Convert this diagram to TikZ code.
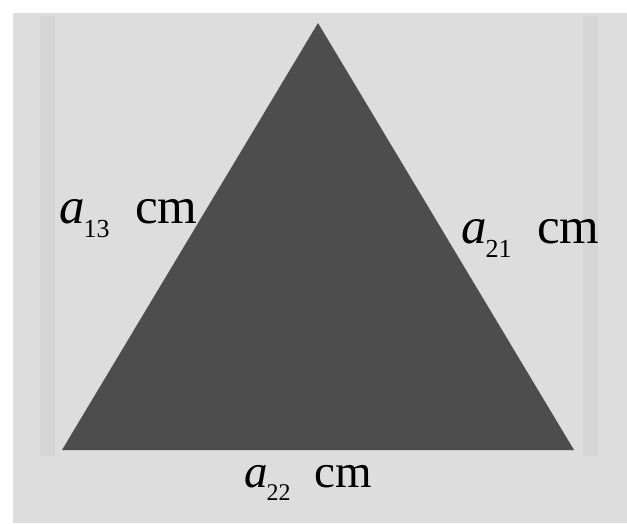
\documentclass[tikz,border=0pt]{standalone}
\usepackage{fontspec}
\setmainfont{Liberation Serif}
\definecolor{bggray}{HTML}{DDDDDD}
\definecolor{stripgray}{HTML}{D5D5D5}
\definecolor{trigray}{HTML}{4D4D4D}
\newcommand{\sidelabel}[1]{{\itshape a}\hspace{-1pt}\raisebox{-0.28em}{\fontsize{0.51em}{0.51em}\selectfont #1}\hspace{0.5em}cm}
\begin{document}
\begin{tikzpicture}[x=1pt,y=-1pt,
  lbl/.style={anchor=base west,inner sep=0pt,font=\fontsize{51}{60}\selectfont,text=black},
  lblsmall/.style={lbl,font=\fontsize{47}{56}\selectfont}]
\useasboundingbox (0,0) rectangle (627,523);
\fill[white] (0,0) rectangle (627,523);
\fill[bggray] (13,13) rectangle (627,523);
\fill[stripgray] (40,16) rectangle (55,456);
\fill[stripgray] (583,16) rectangle (598,456);
\fill[trigray] (318,23) coordinate (apex) -- (62,450) coordinate (bl) -- (574,450) coordinate (br) -- cycle;
\node[lbl] (l13) at (59,223) {\sidelabel{13}};
\node[lbl] (l21) at (461,243) {\sidelabel{21}};
\node[lblsmall] (l22) at (244,487) {\sidelabel{22}};
\end{tikzpicture}
\end{document}
